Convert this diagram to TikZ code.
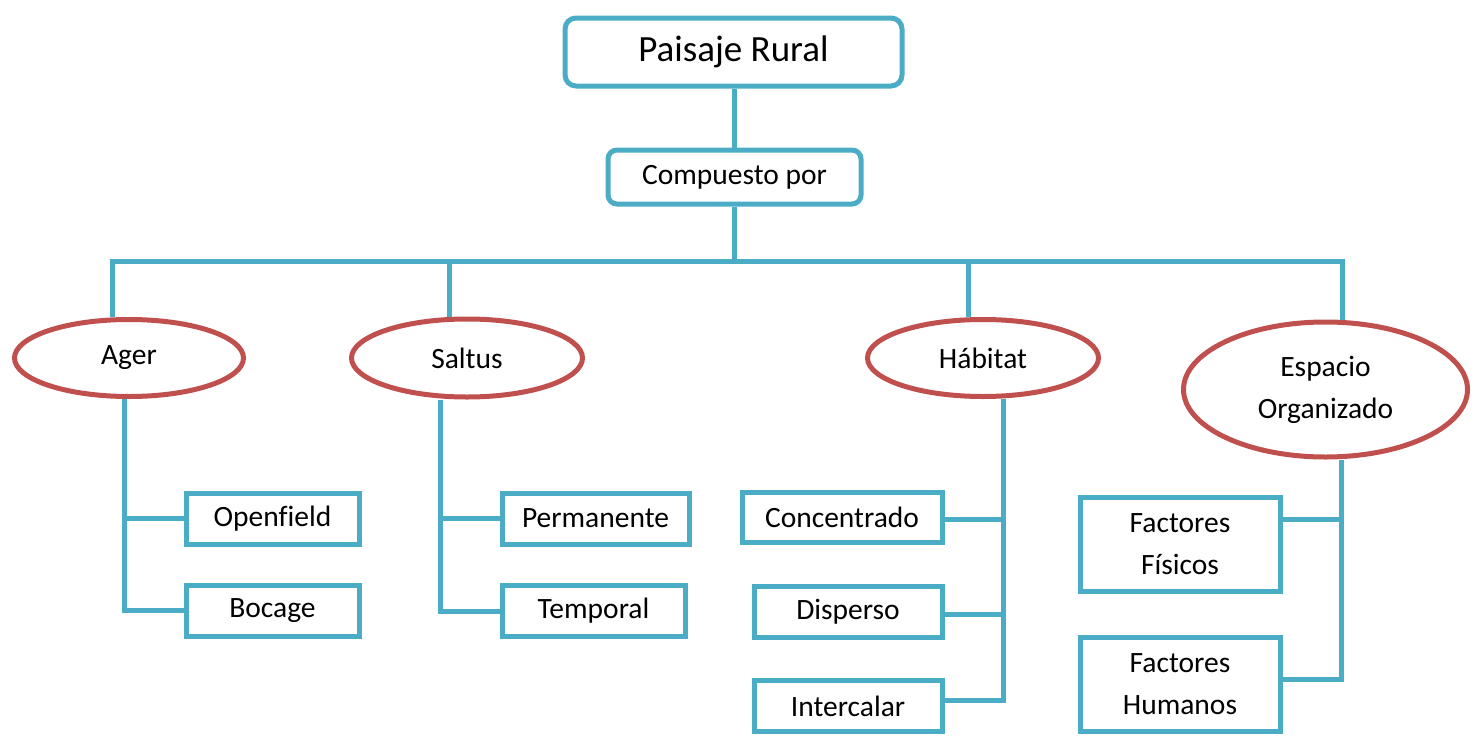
\documentclass[tikz,border=0pt]{standalone}
\usepackage{fontspec}
\setmainfont{Carlito}[Ligatures=NoCommon]
\usepackage{tikz}
\usetikzlibrary{shapes.geometric}
\definecolor{azul}{RGB}{75,172,198}
\definecolor{rojo}{RGB}{192,80,77}

\begin{document}
\begin{tikzpicture}[x=1pt,y=-1pt,
    caja/.style={draw=azul,line width=5pt,rectangle,inner sep=0pt,align=center,
      font=\fontsize{29.5}{42}\selectfont},
    elipse/.style={draw=rojo,line width=5pt,ellipse,inner sep=0pt,align=center,
      font=\fontsize{29.5}{42}\selectfont},
    conn/.style={draw=azul,line width=5pt}]
  \useasboundingbox (0,0) rectangle (1480,736);
%  nivel 1 y 2
  \node[caja,rounded corners=11pt,minimum width=337pt,minimum height=68pt,
    font=\fontsize{37}{42}\selectfont] (rural) at (733.5,52) {Paisaje Rural};
  \node[caja,rounded corners=9pt,minimum width=253pt,minimum height=54pt] (comp) at (734.5,177) {Compuesto por};
%  elipses
  \node[elipse,minimum width=229pt,minimum height=77pt] (ager) at (129,358) {Ager};
  \node[elipse,minimum width=231pt,minimum height=78pt] (saltus) at (467,358) {Saltus};
  \node[elipse,minimum width=231pt,minimum height=77pt] (habitat) at (983,358) {Hábitat};
  \node[elipse,minimum width=284pt,minimum height=135pt] (esp) at (1325.5,389.5) {Espacio\\Organizado};
%  hojas
  \node[caja,minimum width=173pt,minimum height=51pt] (open) at (272.5,518.5) {Openfield};
  \node[caja,minimum width=173pt,minimum height=51pt] (bocage) at (272.5,610.5) {Bocage};
  \node[caja,minimum width=187pt,minimum height=51pt] (perm) at (595.5,518.5) {Permanente};
  \node[caja,minimum width=183pt,minimum height=51pt] (temp) at (593.5,611) {Temporal};
  \node[caja,minimum width=200pt,minimum height=50pt] (conc) at (842,517) {Concentrado};
  \node[caja,minimum width=188pt,minimum height=51pt] (disp) at (848,611.5) {Disperso};
  \node[caja,minimum width=188pt,minimum height=51pt] (inter) at (848,706) {Intercalar};
  \node[caja,minimum width=200pt,minimum height=94pt] (fis) at (1180,544) {Factores\\Físicos};
  \node[caja,minimum width=200pt,minimum height=94pt] (hum) at (1180,684) {Factores\\Humanos};
%  conectores
  \coordinate (bus) at (734.5,261);
  \draw[conn] (rural.south -| comp) -- (comp);
  \draw[conn] (comp) -- (bus);
  \draw[conn] ([xshift=-17pt]ager.north) |- (bus) -| ([xshift=17pt]esp.north);
  \draw[conn] ([xshift=-18pt]saltus.north) coordinate (s) -- (s |- bus);
  \draw[conn] ([xshift=-15pt]habitat.north) coordinate (h) -- (h |- bus);
  \coordinate (agerT) at ([xshift=-5pt]ager.south);
  \draw[conn] (agerT) |- (bocage.west);
  \draw[conn] (open.west) -- (open.west -| agerT);
  \coordinate (saltT) at ([xshift=-27pt]saltus.south);
  \draw[conn] (saltT) |- (temp.west);
  \draw[conn] (perm.west) -- (perm.west -| saltT);
  \coordinate (habT) at ([xshift=20pt]habitat.south);
  \draw[conn] (habT) |- ([yshift=6pt]inter.east);
  \draw[conn] ([yshift=-2pt]conc.east) -- ([yshift=-2pt]conc.east -| habT);
  \draw[conn] ([yshift=-3pt]disp.east) -- ([yshift=-3pt]disp.east -| habT);
  \coordinate (espT) at ([xshift=16pt]esp.south);
  \draw[conn] (espT) |- ([yshift=5pt]hum.east);
  \draw[conn] ([yshift=25pt]fis.east) -- ([yshift=25pt]fis.east -| espT);
\end{tikzpicture}
\end{document}
